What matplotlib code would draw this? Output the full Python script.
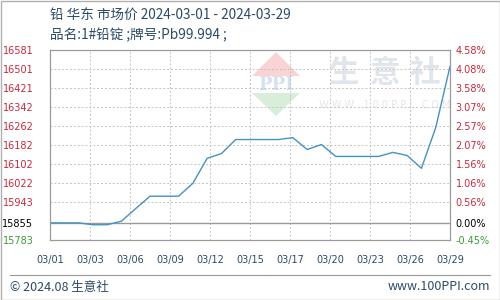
import matplotlib
matplotlib.use('Agg')
import matplotlib.pyplot as plt
from matplotlib.patches import Polygon, Rectangle

plt.rcParams['font.family'] = ['Noto Sans CJK SC', 'DejaVu Sans']

# daily prices 03/01 .. 03/29
days = list(range(29))
prices = [15855, 15855, 15855, 15847, 15847, 15862, 15915, 15967, 15967, 15967,
          16021, 16126, 16146, 16205, 16205, 16205, 16205, 16213, 16163, 16184,
          16134, 16134, 16134, 16134, 16151, 16138, 16084, 16255, 16512]
base = 15855

yticks = [15783, 15855, 15943, 16022, 16102, 16182, 16262, 16342, 16421, 16501, 16581]
pct_labels = ['-0.45%', '0.00%', '0.56%', '1.06%', '1.56%', '2.07%', '2.57%',
              '3.07%', '3.58%', '4.08%', '4.58%']
xtick_pos = [i * 2.8 for i in range(11)]
xtick_labels = ['03/01', '03/03', '03/06', '03/09', '03/12', '03/15',
                '03/17', '03/20', '03/23', '03/26', '03/29']

red = '#c8283c'
green = '#3d9a3d'
txt = '#2b4a68'

fig = plt.figure(figsize=(5, 3), dpi=100)

# background layer in pixel coordinates: watermark, title, footer
bg = fig.add_axes([0, 0, 1, 1], zorder=0)
bg.set_xlim(0, 500)
bg.set_ylim(300, 0)
bg.axis('off')

bg.add_patch(Polygon([(276, 52), (300, 76), (252, 76)], closed=True,
                     fc='#f8d4d4', ec='none'))
bg.add_patch(Polygon([(252, 93), (300, 93), (276, 116)], closed=True,
                     fc='#d8eedb', ec='none'))
bg.text(276, 85, 'PPI', fontsize=13, fontweight='bold', color='#d6e0ef',
        ha='center', va='center', family='DejaVu Serif')
for cx, ch in zip([343, 385, 425], '生意社'):
    bg.text(cx, 73, ch, fontsize=22, fontweight='bold', color='#e0e5ec',
            ha='center', va='center')
bg.text(385, 105, 'W W W . 1 0 0 P P I . C O M', fontsize=7, color='#e6e6e6',
        ha='center', va='center', family='DejaVu Sans')

bg.text(50, 16, '铅 华东 市场价 2024-03-01 - 2024-03-29', fontsize=9.8,
        color=txt, ha='left', va='center')
bg.text(50, 35, '品名:1#铅锭 ;牌号:Pb99.994 ;', fontsize=9.8,
        color=txt, ha='left', va='center')

bg.plot([10, 490], [275, 275], color='#999999', lw=0.8)
bg.text(10, 287, '© 2024.08 生意社', fontsize=9, color=txt,
        ha='left', va='center')
bg.text(490, 287, 'www.100PPI.com', fontsize=9, color=txt,
        ha='right', va='center')
bg.add_patch(Rectangle((0.5, 0.5), 499, 299, fill=False, ec='#b0b0b0', lw=1))

# main chart
ax = fig.add_axes([0.1, 0.2, 0.8, 0.6333], zorder=1)
ax.set_facecolor('none')
ax.plot(days, prices, color='#4592c2', lw=1, zorder=3)
ax.set_xlim(0, 28)
ax.set_ylim(yticks[0], yticks[-1])

ax.set_xticks(xtick_pos)
ax.set_xticklabels(xtick_labels, fontsize=7, color=txt, family='DejaVu Sans')
ax.set_yticks(yticks)
ax.set_yticklabels([str(v) for v in yticks], fontsize=7, family='DejaVu Sans')
ax.tick_params(axis='x', length=0, pad=11)
ax.tick_params(axis='y', length=0, pad=12)
for lab, v in zip(ax.get_yticklabels(), yticks):
    lab.set_color('black' if v == base else (green if v < base else red))

ax.grid(True, color='#c4c4c4', ls=(0, (2, 2)), lw=0.7)
ax.axhline(base, color='#999999', lw=1, zorder=2)
for s in ax.spines.values():
    s.set_color('#999999')

ax2 = ax.twinx()
ax2.set_ylim(ax.get_ylim())
ax2.set_yticks(yticks)
ax2.set_yticklabels(pct_labels, fontsize=7, family='DejaVu Sans')
ax2.tick_params(axis='y', length=0, pad=4)
for lab, v in zip(ax2.get_yticklabels(), yticks):
    lab.set_color('black' if v == base else (green if v < base else red))
for s in ax2.spines.values():
    s.set_color('#999999')

fig.savefig('out.png', dpi=100)
